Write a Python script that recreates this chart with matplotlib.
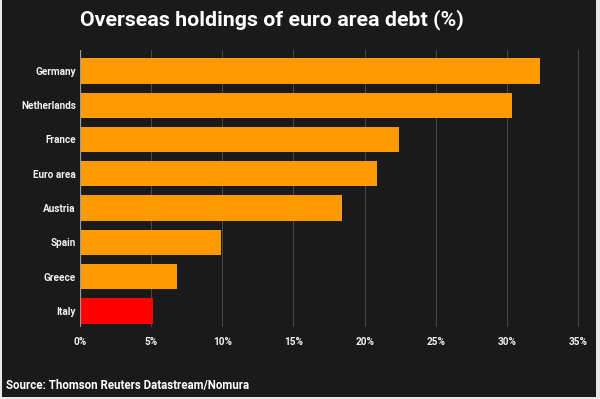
import matplotlib.pyplot as plt
from matplotlib.patches import Rectangle
from matplotlib.ticker import FuncFormatter

countries = ["Germany", "Netherlands", "France", "Euro area", "Austria", "Spain", "Greece", "Italy"]
holdings = [32.3, 30.35, 22.4, 20.85, 18.4, 9.9, 6.8, 5.1]
bar_colors = ["#ff9a00"] * 7 + ["#ff0000"]
xticks = [0, 5, 10, 15, 20, 25, 30, 35]

bg = "#1a1a1a"
plt.rcParams["font.family"] = ["Roboto", "DejaVu Sans"]

fig = plt.figure(figsize=(6, 3.99), dpi=100, facecolor="#e8e8e8")
# dark panel with a thin light frame round it, like the screenshot
fig.patches.append(Rectangle((0.003, 0.005), 0.99, 0.995, transform=fig.transFigure,
                             facecolor=bg, edgecolor="none", zorder=-10))

ax = fig.add_axes([80 / 600, 1 - 327 / 399, (578 - 80) / 600 * 35.3 / 35, (327 - 50) / 399])
ax.set_facecolor(bg)

pos = list(range(len(countries)))
ax.barh(pos, holdings, height=0.74, color=bar_colors, zorder=3)

ax.set_xlim(0, 35.3)
ax.set_ylim(7.47, -0.61)
ax.set_xticks(xticks)
ax.xaxis.set_major_formatter(FuncFormatter(lambda v, p: "%d%%" % v))
ax.set_yticks(pos)
ax.set_yticklabels(countries)

ax.grid(axis="x", color="#4a4a4a", linewidth=0.7, zorder=0)
ax.axvline(0, color="#9a9a9a", linewidth=0.9, zorder=4)
for s in ax.spines.values():
    s.set_visible(False)

ax.tick_params(axis="both", length=0, colors="#f0f0f0", labelsize=7.2)
ax.tick_params(axis="y", pad=3)
ax.tick_params(axis="x", pad=7)
for lbl in ax.get_xticklabels() + ax.get_yticklabels():
    lbl.set_fontweight("bold")

fig.text(80 / 600, 1 - 20 / 399, "Overseas holdings of euro area debt (%)", color="white",
         fontsize=15.4, fontweight="bold", va="center", ha="left")
fig.text(6 / 600, 1 - 386 / 399, "Source: Thomson Reuters Datastream/Nomura", color="white",
         fontsize=8.3, fontweight="bold", va="center", ha="left")

fig.savefig("out.png", dpi=100, facecolor=fig.get_facecolor())
plt.close(fig)
